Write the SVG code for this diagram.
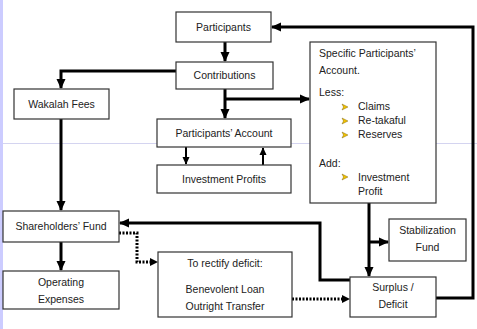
<svg xmlns="http://www.w3.org/2000/svg" width="477" height="329" viewBox="0 0 477 329">
<defs>
<style>
.box{fill:#fff;stroke:#333;stroke-width:1.2}
.t{font-family:"Liberation Sans",Arial,sans-serif;font-size:10.5px;fill:#222}
.c{text-anchor:middle}
.ln{fill:none;stroke:#000;stroke-width:3}
.thin{fill:none;stroke:#000;stroke-width:2}
.dot{fill:none;stroke:#000;stroke-width:3;stroke-dasharray:2 1.5}
.bul{fill:#f2c200;stroke:#6b5200;stroke-width:0.4}
</style>
<marker id="ah" markerUnits="userSpaceOnUse" markerWidth="10" markerHeight="10" viewBox="0 0 10 10" refX="9" refY="5" orient="auto">
<path d="M0,0.5 L10,5 L0,9.5 z" fill="#000"/>
</marker>
<marker id="ahs" markerUnits="userSpaceOnUse" markerWidth="8" markerHeight="8" viewBox="0 0 10 10" refX="9" refY="5" orient="auto">
<path d="M0,0.5 L10,5 L0,9.5 z" fill="#000"/>
</marker>
<path id="b" d="M-3,-3 L3,0 L-3,3 L-1.5,0 z"/>
</defs>
<rect x="0" y="0" width="477" height="329" fill="#fff"/>
<rect x="0" y="0" width="3" height="329" fill="#ccccff"/>
<line x1="3" y1="143.5" x2="477" y2="143.5" stroke="#d4d4f0" stroke-width="1"/>

<g id="connectors">
<path class="ln" d="M225,42 V61" marker-end="url(#ah)"/>
<path class="ln" d="M176,71 H61 V88" marker-end="url(#ah)"/>
<path class="ln" d="M225,89 V118" marker-end="url(#ah)"/>
<path class="ln" d="M225,99 H309" marker-end="url(#ah)"/>
<path class="ln" d="M61,119 V210" marker-end="url(#ah)"/>
<path class="ln" d="M61,242 V270" marker-end="url(#ah)"/>
<path class="thin" d="M186,147 V164" marker-end="url(#ahs)"/>
<path class="thin" d="M263,165 V148" marker-end="url(#ahs)"/>
<path class="ln" d="M369,203 V276" marker-end="url(#ah)"/>
<path class="ln" d="M369,242 H388" marker-end="url(#ah)"/>
<path class="ln" d="M436,298 H473 V27 H272" marker-end="url(#ah)"/>
<path class="ln" d="M350,280 H320 V223 H120" marker-end="url(#ah)"/>
<path class="dot" d="M119,233 H137 V262 H150"/>
<path d="M150,258 L158,262 L150,266 z" fill="#000"/>
<path class="dot" d="M292,299 H342"/>
<path d="M342,295 L350,299 L342,303 z" fill="#000"/>
</g>

<g id="participants">
<rect class="box" x="176" y="12" width="95" height="30"/>
<text class="t c" x="223.5" y="30.5">Participants</text>
</g>
<g id="contributions">
<rect class="box" x="176" y="62" width="97" height="27"/>
<text class="t c" x="224.5" y="79">Contributions</text>
</g>
<g id="wakalah">
<rect class="box" x="14" y="89" width="95" height="30"/>
<text class="t c" x="61.5" y="107.5">Wakalah Fees</text>
</g>
<g id="participants-account">
<rect class="box" x="157" y="119" width="134" height="28"/>
<text class="t c" x="224" y="136.5">Participants’ Account</text>
</g>
<g id="investment-profits">
<rect class="box" x="157" y="165" width="134" height="28"/>
<text class="t c" x="224" y="182.5">Investment Profits</text>
</g>
<g id="specific-account">
<rect class="box" x="310" y="42" width="126" height="161"/>
<text class="t" x="319" y="57">Specific Participants’</text>
<text class="t" x="319" y="74">Account.</text>
<text class="t" x="319" y="96">Less:</text>
<use href="#b" x="345" y="107" class="bul"/>
<text class="t" x="358" y="110">Claims</text>
<use href="#b" x="345" y="121" class="bul"/>
<text class="t" x="358" y="124">Re-takaful</text>
<use href="#b" x="345" y="135" class="bul"/>
<text class="t" x="358" y="138">Reserves</text>
<text class="t" x="319" y="167">Add:</text>
<use href="#b" x="345" y="177" class="bul"/>
<text class="t" x="358" y="180.5">Investment</text>
<text class="t" x="358" y="195">Profit</text>
</g>
<g id="stabilization">
<rect class="box" x="389" y="219" width="77" height="42"/>
<text class="t c" x="427.5" y="233.5">Stabilization</text>
<text class="t c" x="427.5" y="250.5">Fund</text>
</g>
<g id="shareholders">
<rect class="box" x="3" y="211" width="116" height="31"/>
<text class="t c" x="61" y="230">Shareholders’ Fund</text>
</g>
<g id="operating">
<rect class="box" x="3" y="271" width="116" height="38"/>
<text class="t c" x="61" y="286">Operating</text>
<text class="t c" x="61" y="303">Expenses</text>
</g>
<g id="rectify">
<rect class="box" x="158" y="252" width="134" height="65"/>
<text class="t c" x="225" y="267">To rectify deficit:</text>
<text class="t c" x="225" y="293">Benevolent Loan</text>
<text class="t c" x="225" y="310">Outright Transfer</text>
</g>
<g id="surplus">
<rect class="box" x="350" y="277" width="86" height="40"/>
<text class="t c" x="393" y="291">Surplus /</text>
<text class="t c" x="393" y="308">Deficit</text>
</g>
</svg>
